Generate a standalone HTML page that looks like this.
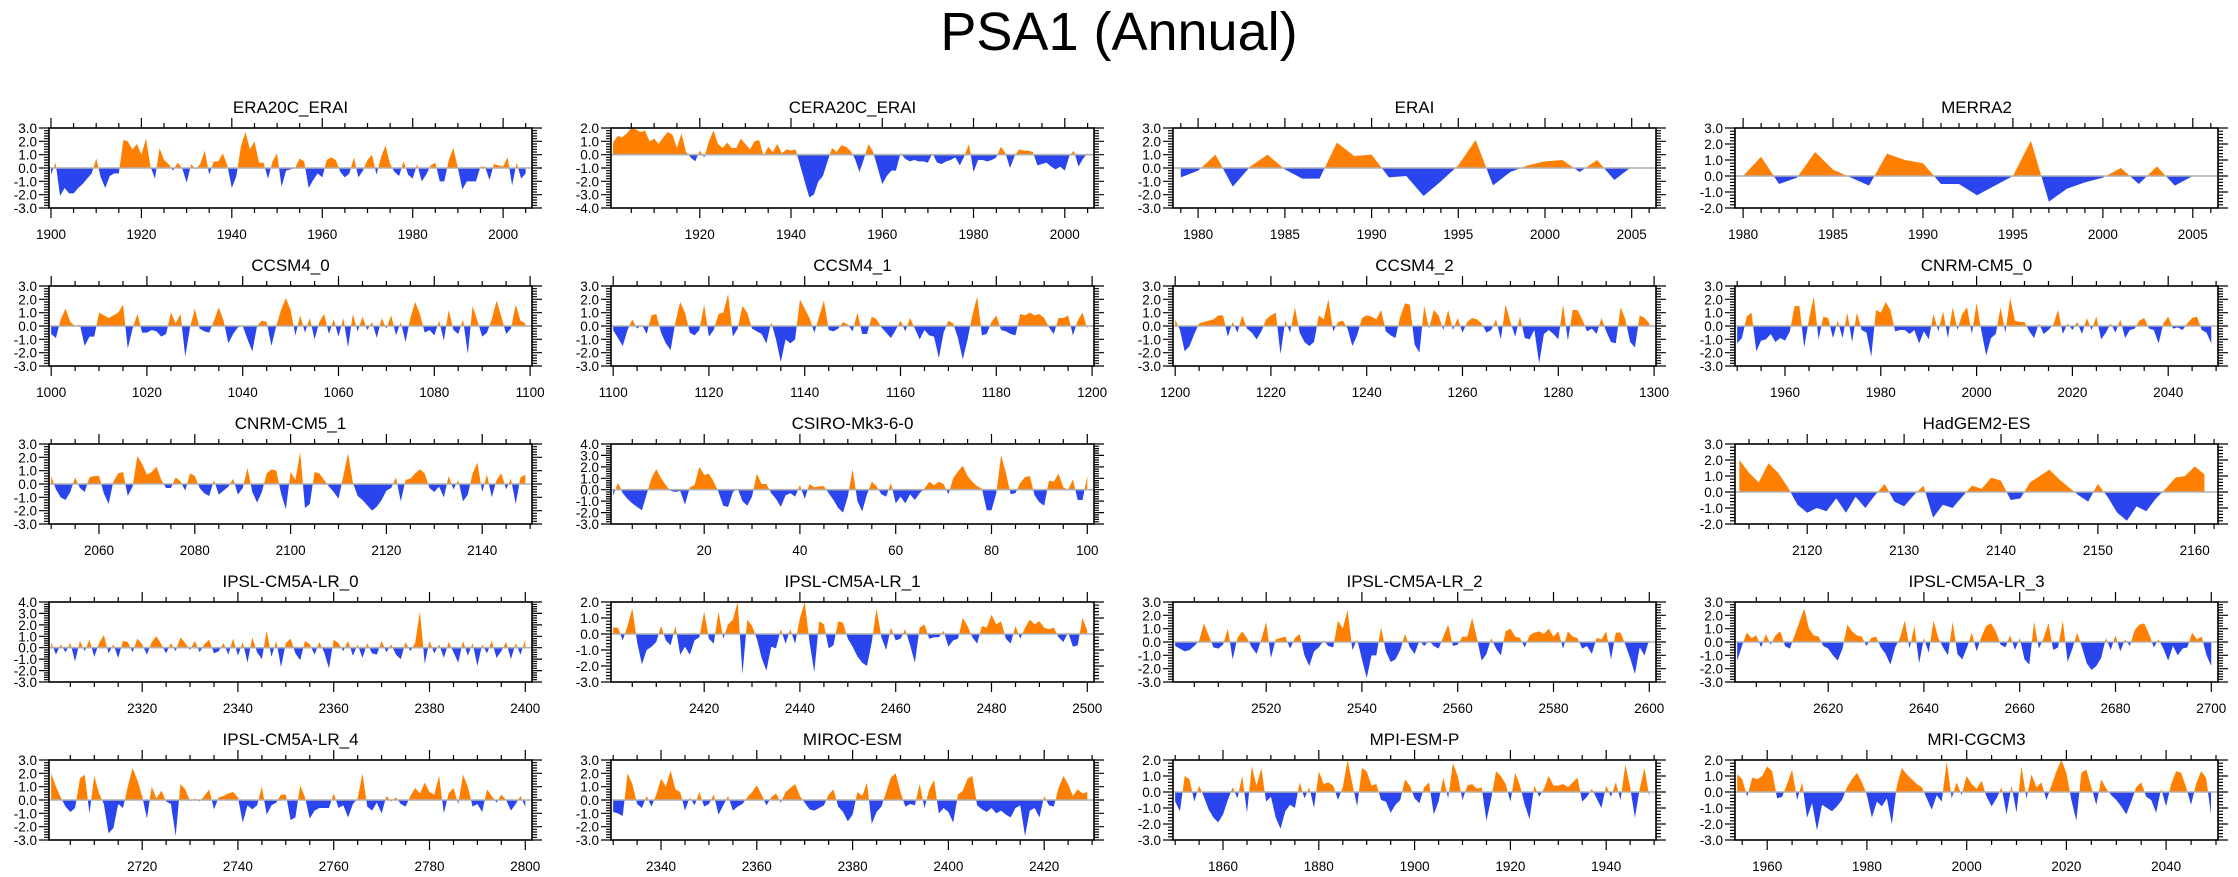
<!DOCTYPE html>
<html><head><meta charset="utf-8"><title>PSA1 (Annual)</title>
<style>html,body{margin:0;padding:0;background:#fff;}svg{display:block;font-family:"Liberation Sans",Arial,sans-serif;}</style>
</head><body>
<svg id="chart" width="2238" height="877" viewBox="0 0 2238 877" xmlns="http://www.w3.org/2000/svg">
<text x="1119" y="50" text-anchor="middle" font-size="54" fill="#000">PSA1 (Annual)</text>
</svg>
<script>
const era20c_erai = [-0.5,0.4,-2.1,-1.5,-1.9,-1.9,-1.5,-1.2,-0.8,-0.4, 0.7,-0.7,-1.5,-0.6,-0.4,-0.4,2.1,2.0,1.4,1.8, 1.0,2.2,0.1,-0.8,1.5,0.6,0.3,-0.2,0.4,0.0, -1.1,0.3,-0.1,0.3,1.3,-0.5,0.5,0.5,1.1,0.2, -1.5,-0.6,1.6,2.7,1.4,2.0,0.4,0.4,-0.8,0.5, 1.1,-1.4,-0.2,-0.1,0.0,0.7,0.5,-1.5,-0.9,-0.4, -0.7,0.6,0.8,0.6,-0.3,-0.7,-0.4,0.8,-0.7,-0.2, 0.6,1.0,-0.5,0.8,1.7,0.3,-0.3,-0.6,0.5,-0.5, -0.8,0.3,-1.0,-0.5,0.2,0.4,-1.0,-1.0,0.6,1.5, 0.0,-1.6,-1.0,-1.0,-1.0,0.1,0.1,-0.9,0.3,0.2, 0.1,0.8,-1.3,0.4,-0.8,-0.4];
const cera20c_erai = [0.9,1.4,1.3,1.6,2.0,1.9,1.7,1.8,1.0,1.2, 0.8,1.3,1.7,1.5,0.5,1.6,0.2,-0.2,-0.5,0.3, -0.2,1.0,1.8,0.8,0.5,0.9,0.5,0.5,1.2,0.8, 0.4,1.0,1.1,-0.1,0.6,0.2,0.8,0.1,0.4,0.3, 0.4,-0.8,-2.0,-3.2,-3.0,-2.0,-1.6,-0.5,0.5,0.2, 0.7,0.6,0.3,-0.3,-1.3,-0.3,0.8,0.2,-1.0,-2.2, -1.6,-1.2,-1.2,0.1,-0.3,-0.5,-0.4,-0.5,-0.5,-0.6, 0.1,-0.6,-0.7,-0.5,-0.4,-0.2,-0.8,-0.1,0.8,-1.3, -0.4,-0.4,-0.5,-0.4,-0.2,0.6,0.1,-1.0,-0.1,0.4, 0.3,0.3,0.2,-0.8,-0.7,-0.6,-0.9,-1.1,-0.9,-1.2, -0.1,0.3,-0.9,-0.3,0.1];
const erai = [-0.7,-0.2,1.0,-1.4,0.1,1.0,-0.1,-0.8,-0.8,1.9, 0.9,1.0,-0.7,-0.6,-2.1,-1.0,0.2,2.1,-1.3,-0.3, 0.2,0.5,0.6,-0.3,0.6,-0.9,0.1];
const merra2 = [0.0,1.2,-0.5,-0.1,1.5,0.4,-0.1,-0.6,1.4,1.0, 0.8,-0.5,-0.5,-1.2,-0.6,0.0,2.2,-1.6,-0.8,-0.4, -0.1,0.5,-0.5,0.6,-0.6,0.0];
const ccsm4_0 = [-0.6,-0.9,0.5,1.3,0.3,0.0,0.1,-1.5,-0.8,-0.8, 1.0,0.8,0.6,0.8,1.0,1.6,-1.7,-0.2,0.9,-0.5, -0.5,-0.3,-0.4,-0.8,-0.6,1.0,0.2,0.9,-2.3,-0.1, 1.3,-0.2,-0.4,-0.5,0.4,1.4,0.4,-1.3,-0.6,-0.1, 0.0,-1.0,-1.9,0.0,0.4,0.3,-1.5,0.0,1.2,2.1, 1.2,-0.7,0.8,-0.5,0.6,-1.0,0.3,0.9,-0.6,0.5, -0.8,0.6,-1.6,0.9,-0.4,0.7,-0.3,0.3,-0.9,0.6, -0.2,0.8,-0.7,0.3,-1.2,0.6,1.8,0.9,-0.5,-0.3, -0.7,0.4,-1.1,1.2,-0.3,-0.6,0.5,-2.1,1.5,0.4, -0.8,-0.5,0.5,1.9,0.7,-0.6,-0.2,1.6,0.4,0.2];
const ccsm4_1 = [-0.3,-0.9,-1.5,-0.3,0.5,-0.2,0.1,-0.6,0.8,0.9, -0.5,-1.3,-1.8,0.3,1.8,1.0,-0.5,-0.7,-0.3,1.6, -0.8,-0.3,0.9,1.0,2.4,-0.8,-0.2,1.5,1.0,-0.2, -0.4,-0.6,-1.3,0.3,-1.0,-2.7,-1.0,-1.3,-1.0,2.0, 1.3,0.6,-0.5,0.7,1.9,-0.3,-0.4,-0.2,0.3,0.1, -0.4,1.0,-0.6,-0.6,0.7,0.5,-0.1,-0.5,-0.9,-0.3, 0.4,-0.4,0.6,-0.2,-1.0,-0.3,-0.7,-0.8,-2.4,-0.5, 0.4,0.2,-0.9,-2.5,-1.0,0.8,2.2,-0.7,-0.6,0.3, 0.8,-0.3,-0.4,-0.6,-0.7,0.9,0.8,1.0,0.8,0.9, 0.6,-0.1,-0.6,0.6,0.6,0.8,-0.7,0.4,1.0,-0.2];
const ccsm4_2 = [0.5,-0.3,-1.9,-1.5,-0.6,0.2,0.3,0.4,0.5,0.8, 0.8,-0.8,0.3,-0.5,0.8,-0.2,-0.5,-1.0,-0.4,0.5, 0.8,1.0,-2.1,0.4,-0.5,1.4,-0.5,-1.2,-1.5,-1.2, 0.8,0.5,2.0,-0.4,0.3,0.4,-0.2,-1.5,-0.7,0.6, 0.8,0.7,0.5,1.2,-0.4,-0.7,-0.9,0.7,1.7,1.6, -1.4,-2.0,1.5,-0.2,1.2,0.8,-0.3,1.2,-0.3,0.6, -0.5,0.3,0.6,0.5,0.2,-0.5,-0.3,0.5,-1.0,1.6, 0.3,-0.8,0.7,-0.9,-1.0,-0.3,-2.8,-0.6,-0.3,-0.6, -1.0,1.6,-1.1,1.2,1.2,0.5,-0.4,-0.2,-0.6,0.6, -0.4,-1.2,-1.3,1.4,0.5,-1.2,-1.6,0.8,0.6,0.2];
const cnrm_cm5_0 = [-1.3,-0.9,0.7,1.0,-1.9,-1.1,-1.0,-0.6,-1.2,-0.9, -1.1,-0.4,1.5,1.5,-1.6,0.5,2.2,-1.0,0.7,0.6, -0.9,0.4,-0.9,1.0,-1.2,1.0,-0.3,-0.5,-2.3,1.2, 1.0,1.8,1.2,-0.4,-0.3,-0.3,-0.6,-0.3,-1.3,-0.4, -1.0,0.9,-0.4,1.1,-0.9,1.4,-0.3,0.9,1.4,-0.6, 1.7,-0.4,-2.2,-0.9,-0.6,1.4,-0.5,2.1,0.4,0.3, 0.3,-0.4,-0.9,0.2,-0.6,-0.3,0.1,1.2,-0.6,0.2, -0.3,0.3,-0.6,0.6,-0.3,0.7,-1.0,-0.5,0.2,-0.5, 0.5,-0.9,-0.3,-0.2,0.4,0.6,-0.2,-0.3,-1.3,0.2, 0.7,-0.2,-0.1,-0.3,0.2,0.6,0.7,-0.3,-0.5,-1.3];
const cnrm_cm5_1 = [0.6,-0.4,-1.0,-1.2,-0.6,0.5,-0.3,-0.6,0.5,0.6, 0.6,-0.7,-1.5,0.2,0.8,0.9,-0.9,-0.2,2.1,1.5, 0.7,0.9,1.3,0.3,-0.3,-0.3,0.5,0.2,-0.5,0.8, 0.6,-0.3,-0.7,-0.9,0.3,-0.8,-0.5,-0.2,0.4,-0.8, -0.3,1.2,-0.6,-1.4,-0.6,0.8,1.1,1.0,-0.7,-1.9, 0.9,0.3,2.4,-1.8,-1.5,0.9,0.8,0.3,-0.2,-0.6, -1.1,0.6,2.3,0.1,-0.9,-1.2,-1.6,-2.0,-1.7,-1.2, -0.5,-0.3,0.5,-1.3,0.3,0.4,0.8,1.1,0.8,-0.3, -0.6,-0.2,-1.0,0.6,-0.4,0.3,-1.3,-0.8,0.8,1.6, -0.6,0.7,-1.0,0.3,0.8,-0.4,0.4,-1.5,0.5,0.7];
const csiro_mk3_6_0 = [-0.5,0.6,-0.3,-0.8,-1.2,-1.5,-1.8,-0.4,1.0,1.8, 1.0,0.4,-0.1,-0.2,-0.1,-1.3,0.2,0.4,2.0,1.3, 1.4,0.7,-0.2,-1.4,-1.5,-0.2,0.1,-1.0,-1.4,-0.6, 1.4,0.5,0.5,-0.3,-0.8,-1.5,-0.5,-0.3,-0.6,0.4, -0.8,0.5,0.2,0.3,0.3,-0.3,-0.9,-1.6,-2.0,-0.6, 1.8,-1.0,-1.9,-0.4,0.7,0.3,-0.4,-0.6,0.6,-1.2, -0.6,-1.2,-0.4,-0.9,-0.3,0.1,0.7,0.4,0.7,0.5, -0.4,1.0,1.6,2.1,1.2,0.7,0.3,0.1,-1.8,-1.8, -0.3,3.0,1.5,-0.4,-0.3,0.6,1.1,1.2,-0.5,-1.1, -1.4,0.8,0.7,1.4,0.2,0.0,0.9,-0.9,-0.9,1.2];
const hadgem2_es = [2.0,1.2,0.6,1.8,1.2,0.3,-0.8,-1.3,-1.0,-1.2, -0.4,-1.3,-0.3,-1.0,-0.2,0.5,-0.6,-0.9,-0.2,0.4, -1.6,-0.8,-1.0,-0.3,0.4,0.2,0.9,0.7,-0.5,-0.4, 0.6,1.0,1.4,0.8,0.3,-0.2,-0.6,0.5,-0.3,-1.3, -1.8,-0.9,-1.2,-0.4,0.2,0.9,1.0,1.6,1.1];
const ipsl_0 = [0.5,-0.6,0.3,-0.4,0.4,-1.2,0.6,-0.3,0.7,-0.8, 0.4,1.1,-0.5,0.3,-0.9,0.6,0.5,-0.4,0.8,0.3, -0.6,0.5,1.0,0.3,-0.5,0.4,-0.3,0.9,0.4,-0.2, 0.6,-0.4,0.3,0.7,-0.5,-0.3,0.4,-0.6,0.8,-0.7, 0.5,-1.3,0.9,-0.4,-1.0,1.5,-0.8,0.6,-1.7,0.4, 0.8,-0.5,-1.1,0.6,0.3,-0.6,0.5,-0.4,-1.8,0.7, 0.4,-0.3,0.6,-0.7,0.3,-0.9,0.4,-0.5,-0.6,0.6, -0.4,0.3,-0.6,-1.0,0.5,-0.3,0.4,3.2,-1.4,0.6, -0.5,0.3,-0.9,0.5,-0.4,-1.3,0.6,-0.7,0.4,-1.6, 0.3,-0.5,0.6,-0.9,-0.3,0.5,-1.0,0.4,-0.6,0.7];
const ipsl_1 = [0.4,0.4,-0.4,0.5,1.6,-0.5,-1.9,-1.0,-0.8,-0.5, 0.5,-0.4,-0.7,0.5,-1.3,-0.8,-1.3,-0.4,-0.2,1.4, -0.3,-0.6,1.4,-0.3,0.6,0.9,2.0,-2.5,0.9,0.5, -0.3,-1.5,-2.3,-0.8,-0.9,0.3,-0.6,0.3,-0.6,1.0, 2.0,-0.5,-2.4,0.8,0.6,-0.9,-0.7,0.8,0.7,-0.3, -0.8,-1.4,-1.8,-2.0,-0.5,1.6,-0.2,-1.0,0.4,-0.4, -0.3,0.3,-0.7,-1.8,0.4,0.6,-0.3,-0.2,-0.2,0.2, -0.8,-0.4,-0.3,1.0,0.5,-0.2,-0.6,0.5,0.4,1.2, 0.6,0.8,-0.3,-0.6,0.5,-0.3,0.4,0.9,0.6,0.8, 0.4,0.3,0.4,-0.2,-0.5,0.1,-0.8,-0.7,1.0,0.2];
const ipsl_2 = [-0.3,-0.5,-0.7,-0.6,-0.3,0.1,1.4,0.5,-0.4,-0.5, -0.2,1.0,-1.3,0.3,0.8,0.3,-0.4,-0.9,0.2,1.5, -1.2,0.2,0.3,0.4,-0.5,0.3,0.6,-1.0,-1.8,-0.7, -0.4,0.1,-0.3,-0.4,1.6,1.0,2.4,-0.6,0.2,-1.3, -2.7,-1.0,-1.0,1.1,-0.7,-1.5,-1.3,-0.6,0.6,-0.4, -0.9,0.1,-0.3,0.1,-0.3,-0.5,0.4,1.3,-0.3,-0.2, 0.4,0.4,1.8,0.3,-1.4,-0.9,0.3,-0.5,-1.0,0.8, 1.0,0.4,0.3,-0.4,0.5,0.7,0.8,0.6,1.0,0.4, 0.8,-0.5,0.8,0.4,0.3,-0.5,-0.3,-0.9,0.3,0.2, 0.8,-1.3,0.7,0.7,-0.2,-1.2,-2.4,-0.4,-1.0,0.2];
const ipsl_3 = [-1.4,-0.3,0.7,0.3,0.5,-0.4,0.6,-0.2,0.5,0.8, -0.3,-0.5,0.5,1.5,2.5,1.0,0.5,0.4,-0.3,-0.5, -1.0,-1.4,-0.5,1.3,0.8,0.5,0.4,-0.3,0.3,0.4, -0.4,-0.9,-1.7,-0.4,0.3,1.6,-0.5,1.2,-1.6,0.3, -0.8,1.6,0.3,-0.4,-1.0,1.5,-0.9,-1.3,-0.4,0.7, -0.7,0.4,1.2,1.4,0.8,-0.2,-0.4,0.5,-0.6,0.3, -1.3,-1.7,1.5,-0.5,0.3,1.4,-0.6,-0.4,1.6,-1.5, -0.5,0.7,-0.4,-1.6,-2.1,-1.8,-1.2,0.3,-0.6,0.5, -0.7,0.2,-0.3,0.9,1.3,1.4,0.6,-0.4,0.2,-0.5, -1.4,-0.3,-1.0,-0.5,-0.4,0.7,0.2,0.4,-1.0,-1.8];
const ipsl_4 = [2.0,1.0,0.2,-0.5,-0.9,-0.6,1.6,1.9,-1.0,1.8, 0.5,-0.3,-2.5,-2.1,-0.3,-0.6,1.0,2.4,1.5,0.3, -1.4,1.0,0.1,0.7,-0.1,-0.3,-2.7,1.2,0.8,-0.1, 0.1,-0.1,0.3,0.8,-0.7,0.2,0.3,0.5,0.6,0.2, -1.7,-0.4,-0.7,-0.4,1.0,-1.1,-0.4,-0.2,0.4,0.4, -1.5,-1.3,1.1,0.2,-1.4,-0.8,-0.6,-0.6,-0.6,0.5, -0.6,-0.4,-1.3,-0.3,0.1,2.0,-0.5,-0.8,-0.2,-1.0, 0.3,-0.1,0.2,-0.3,-0.5,0.3,0.9,0.5,1.3,0.6, 0.4,1.8,-1.0,0.5,0.9,-0.3,1.9,1.0,-0.5,-0.3, -0.9,0.8,0.3,-0.2,0.4,0.0,-0.8,-0.3,0.3,-0.5];
const miroc_esm = [-0.9,-1.0,-1.2,2.0,1.2,-0.3,-0.6,0.3,-0.5,0.4, 1.6,1.0,2.2,0.8,0.6,-0.8,0.2,-0.4,0.6,-0.5, -0.3,0.4,-1.1,-0.4,0.3,-0.8,-0.5,-0.3,0.2,0.6, 1.1,0.4,-0.4,0.2,0.5,-0.2,0.6,0.9,1.2,0.3, -0.2,-0.7,-0.8,-0.6,-0.4,0.4,0.8,-0.5,-0.9,-1.6, -1.1,0.6,0.3,1.3,-1.8,-0.9,-0.5,0.6,1.7,2.0, 0.6,-0.5,-0.3,-0.4,1.2,-0.6,0.8,1.5,-1.0,-0.6, -0.9,-1.7,0.4,0.7,1.6,1.8,-0.4,-0.7,-0.9,-0.6, -1.0,-0.8,-1.1,-1.3,-0.6,-0.4,-2.7,-0.8,-0.6,-1.3, 0.3,-0.4,-0.5,0.9,1.8,1.2,0.3,0.8,0.5,0.6];
const mpi_esm_p = [-0.6,-1.2,1.0,0.8,-0.6,0.4,-0.3,-1.1,-1.6,-1.9, -1.4,-0.5,0.3,-0.4,1.0,-1.3,1.6,0.4,1.5,-0.6, -0.3,-1.6,-2.3,-1.2,-0.8,-1.0,0.6,-0.4,0.3,-1.0, 1.3,0.5,0.6,0.4,-0.5,0.3,2.0,0.5,-0.9,1.5, 1.3,0.4,0.5,-0.5,-0.6,-1.3,-0.8,-0.5,0.8,0.4, -0.4,-0.7,0.3,0.6,-1.4,-0.6,0.9,-0.4,1.8,1.0, -0.5,0.4,0.5,0.2,0.3,-1.8,-0.4,1.3,1.0,0.5, -0.6,1.2,0.4,-0.8,-1.7,0.4,-0.3,0.2,1.0,0.4, 0.4,0.5,0.3,0.6,0.9,-0.6,-0.3,0.2,-0.4,-1.0, 0.4,-0.3,0.6,-0.5,1.7,0.3,-1.6,0.2,1.5,-0.3];
const mri_cgcm3 = [1.1,0.8,-0.3,0.9,0.8,1.0,1.6,1.3,-0.4,-0.3, 0.5,1.4,-0.5,0.6,-1.6,-0.7,-2.4,-0.8,-1.0,-1.2, -0.9,-0.5,0.3,0.8,1.2,0.6,-0.2,-1.6,-0.6,-0.9, -0.4,-2.0,0.4,1.5,1.1,0.8,0.5,0.3,-0.4,-1.1, -0.2,-0.6,1.9,-0.4,0.6,-0.2,1.0,0.5,0.2,0.7, -0.3,-0.9,-0.4,0.3,-1.4,0.4,-1.3,1.6,-0.4,1.1, 0.3,0.6,-0.5,0.4,1.3,2.0,1.2,-0.5,-1.8,1.2, 1.4,0.3,-0.8,0.8,0.2,-0.2,-0.5,-0.9,-1.4,-0.6, 0.3,0.6,-0.3,-0.5,-1.3,0.2,-0.9,0.5,1.3,1.2, 0.3,-0.8,0.5,1.3,0.9,-1.4];

const panelTitles = ["ERA20C_ERAI","CERA20C_ERAI","ERAI","MERRA2","CCSM4_0","CCSM4_1","CCSM4_2","CNRM-CM5_0","CNRM-CM5_1","CSIRO-Mk3-6-0","HadGEM2-ES","IPSL-CM5A-LR_0","IPSL-CM5A-LR_1","IPSL-CM5A-LR_2","IPSL-CM5A-LR_3","IPSL-CM5A-LR_4","MIROC-ESM","MPI-ESM-P","MRI-CGCM3"];
const panelSeries = [era20c_erai,cera20c_erai,erai,merra2,ccsm4_0,ccsm4_1,ccsm4_2,cnrm_cm5_0,cnrm_cm5_1,csiro_mk3_6_0,hadgem2_es,ipsl_0,ipsl_1,ipsl_2,ipsl_3,ipsl_4,miroc_esm,mpi_esm_p,mri_cgcm3];
const startYears = [1900,1901,1979,1980,1000,1100,1200,1950,2050,1,2113,2301,2401,2501,2601,2701,2330,1850,1954];
const yMaxes = [3,2,3,3,3,3,3,3,3,4,3,4,2,3,3,3,3,2,2];
const yMins = [-3,-4,-3,-2,-3,-3,-3,-3,-3,-3,-2,-3,-3,-3,-3,-3,-3,-3,-3];
const xMajorSteps = [20,20,5,5,20,20,20,20,20,20,10,20,20,20,20,20,20,20,20];
const xMinorSteps = [5,5,1,1,5,5,5,5,5,5,2,5,5,5,5,5,5,5,5];

// layout (not data)
const gridRows = [0,0,0,0,1,1,1,1,2,2,2,3,3,3,3,4,4,4,4];
const gridCols = [0,1,2,3,0,1,2,3,0,1,3,0,1,2,3,0,1,2,3];
const BOX_W = 483, BOX_H = 80;

const NS = "http://www.w3.org/2000/svg";
const svg = document.getElementById("chart");
function mk(tag, attrs, parent){
  const e = document.createElementNS(NS, tag);
  for (const k in attrs) e.setAttribute(k, attrs[k]);
  parent.appendChild(e);
  return e;
}
function fmt(v){ return v.toFixed(1); }

panelSeries.forEach((vals, p) => {
  const x0 = 49 + 562 * gridCols[p], y0 = 128 + 158 * gridRows[p];
  const start = startYears[p], end = start + vals.length - 1;
  const xmin = start - 0.45, xmax = end + 1.4;
  const ymax = yMaxes[p], ymin = yMins[p];
  const sx = v => x0 + (v - xmin) / (xmax - xmin) * BOX_W;
  const sy = v => y0 + (ymax - v) / (ymax - ymin) * BOX_H;

  const g = mk("g", {}, svg);
  
  

  const pts = [];
  for (let i = 0; i < vals.length; i++) {
    const yr = start + i, v = vals[i];
    if (i > 0) {
      const pv = vals[i-1];
      if ((pv > 0 && v < 0) || (pv < 0 && v > 0)) {
        const t = pv / (pv - v);
        pts.push([yr - 1 + t, 0]);
      }
    }
    pts.push([yr, v]);
  }
  const z = sy(0);
  const first = pts[0][0], last = pts[pts.length-1][0];
  let posD = "M" + sx(first) + "," + z;
  let negD = "M" + sx(first) + "," + z;
  pts.forEach(pt => {
    posD += " L" + sx(pt[0]).toFixed(2) + "," + sy(Math.max(pt[1],0)).toFixed(2);
    negD += " L" + sx(pt[0]).toFixed(2) + "," + sy(Math.min(pt[1],0)).toFixed(2);
  });
  posD += " L" + sx(last) + "," + z + " Z";
  negD += " L" + sx(last) + "," + z + " Z";
  const pos = mk("path", {d: posD, fill: "#ff8000", stroke: "none"}, g);
  
  
  const neg = mk("path", {d: negD, fill: "#2a45ee", stroke: "none"}, g);
  
  

  const zl = mk("line", {x1: x0, x2: x0 + BOX_W, y1: z, y2: z, stroke: "#b0b0b0", "stroke-width": 1.6}, g);
  
  

  const box = mk("rect", {x: x0, y: y0, width: BOX_W, height: BOX_H, fill: "none", stroke: "#000", "stroke-width": 1.6}, g);
  
  

  const xm = xMinorSteps[p], xM = xMajorSteps[p];
  let tickD = "";
  for (let t = Math.ceil(xmin / xm) * xm; t <= xmax; t += xm) {
    const X = sx(t).toFixed(1);
    const L = (t % xM === 0) ? 10 : 5;
    tickD += "M" + X + "," + y0 + " v-" + L + " M" + X + "," + (y0 + BOX_H) + " v" + L + " ";
    if (t % xM === 0) {
      const tx = mk("text", {x: X, y: y0 + BOX_H + 31, "text-anchor": "middle", "font-size": 13.5, fill: "#000"}, g);
      
      
      tx.textContent = String(t);
    }
  }
  for (let k = Math.round(ymin * 5); k <= Math.round(ymax * 5); k++) {
    const v = k / 5, Y = sy(v).toFixed(1);
    const major = (k % 5 === 0);
    const L = major ? 10 : 5;
    tickD += "M" + x0 + "," + Y + " h-" + L + " M" + (x0 + BOX_W) + "," + Y + " h" + L + " ";
    if (major) {
      const ty = mk("text", {x: x0 - 12, y: +Y + 5, "text-anchor": "end", "font-size": 13.5, fill: "#000"}, g);
      
      
      ty.textContent = fmt(v);
    }
  }
  const ticks = mk("path", {d: tickD, stroke: "#000", "stroke-width": 1.2, fill: "none"}, g);
  
  

  const tt = mk("text", {x: x0 + BOX_W / 2, y: y0 - 15, "text-anchor": "middle", "font-size": 17, fill: "#000"}, g);
  
  
  tt.textContent = panelTitles[p];
});
</script>
</body></html>
